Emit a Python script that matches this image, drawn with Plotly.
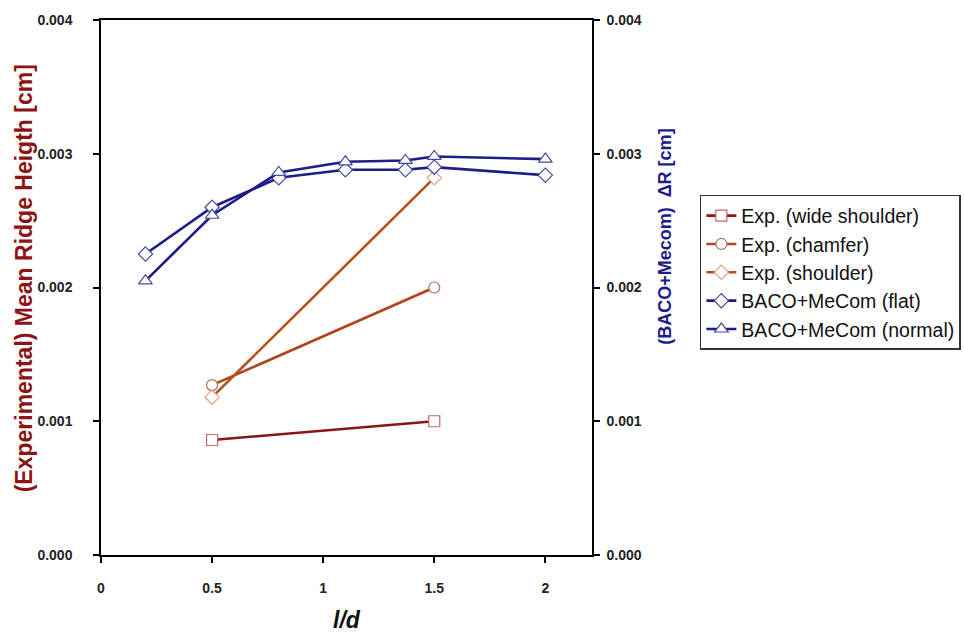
import plotly.graph_objects as go

# Experimental data (left axis)
x_exp = [0.5, 1.5]
y_wide_shoulder = [0.00086, 0.00100]
y_chamfer = [0.00127, 0.00200]
y_shoulder = [0.00118, 0.00282]

# BACO+MeCom (right axis)
x_baco = [0.2, 0.5, 0.8, 1.1, 1.37, 1.5, 2.0]
y_flat = [0.00225, 0.00260, 0.00282, 0.00288, 0.00288, 0.00290, 0.00284]
y_normal = [0.00205, 0.00254, 0.00286, 0.00294, 0.00295, 0.00298, 0.00296]

names = ["Exp. (wide shoulder)", "Exp. (chamfer)", "Exp. (shoulder)",
         "BACO+MeCom (flat)", "BACO+MeCom (normal)"]

x_ticks = [0, 0.5, 1, 1.5, 2]
y_ticks = [0, 0.001, 0.002, 0.003, 0.004]

fig = go.Figure()

def add(x, y, name, lc, mc, sym, size, yaxis):
    fig.add_trace(go.Scatter(
        x=x, y=y, name=name, mode="lines+markers", yaxis=yaxis,
        line=dict(color=lc, width=2.6),
        marker=dict(symbol=sym, size=size, color="white",
                    line=dict(color=mc, width=1.2)),
    ))

add(x_exp, y_wide_shoulder, names[0], "#8B1414", "#C06A6A", "square", 11, "y")
add(x_exp, y_chamfer, names[1], "#B0441C", "#B5705A", "circle", 11, "y")
add(x_exp, y_shoulder, names[2], "#B8501A", "#E0A080", "diamond", 11, "y")
add(x_baco, y_flat, names[3], "#1C1C8A", "#4A4AA0", "diamond", 11, "y2")
add(x_baco, y_normal, names[4], "#1C1C8A", "#4A4AA0", "triangle-up", 12, "y2")

tickfont = dict(family="Liberation Sans, Arial", size=14, color="#222", weight="bold")

fig.update_layout(
    width=964, height=635,
    paper_bgcolor="white", plot_bgcolor="white",
    margin=dict(l=101, r=372, t=17, b=80),
    showlegend=True,
    legend=dict(xref="container", yref="container", x=0.726, y=0.693,
                xanchor="left", yanchor="top",
                bordercolor="#333", borderwidth=1.5, bgcolor="white",
                font=dict(family="Liberation Sans, Arial", size=19.5, color="#111"),
                itemwidth=30, tracegroupgap=0),
    xaxis=dict(range=[0, 2.21], tickvals=x_ticks, ticktext=["0", "0.5", "1", "1.5", "2"],
               ticks="outside", ticklen=6, tickcolor="black", tickwidth=1.5,
               showline=True, linecolor="black", linewidth=1.5, mirror=True,
               showgrid=False, zeroline=False, tickfont=tickfont,
               ticklabelstandoff=13),
    yaxis=dict(range=[0, 0.004], tickvals=y_ticks, tickformat=".3f",
               ticks="outside", ticklen=6, tickcolor="black", tickwidth=1.5,
               showline=True, linecolor="black", linewidth=1.5,
               showgrid=False, zeroline=False, tickfont=tickfont,
               ticklabelstandoff=18),
    yaxis2=dict(range=[0, 0.004], tickvals=y_ticks, tickformat=".3f",
                overlaying="y", side="right", anchor="x",
                ticks="outside", ticklen=6, tickcolor="black", tickwidth=1.5,
                showline=True, linecolor="black", linewidth=1.5,
                showgrid=False, zeroline=False, tickfont=tickfont,
                ticklabelstandoff=4),
    annotations=[
        dict(text="(Experimental) Mean Ridge Heigth [cm]", textangle=-90,
             xref="paper", yref="paper", x=-0.155, y=0.517,
             xanchor="center", yanchor="middle", showarrow=False,
             font=dict(family="Liberation Sans, Arial", size=23, color="#8B1414", weight="bold")),
        dict(text="(BACO+Mecom)  ΔR [cm]", textangle=-90,
             xref="paper", yref="paper", x=1.149, y=0.595,
             xanchor="center", yanchor="middle", showarrow=False,
             font=dict(family="Liberation Sans, Arial", size=18, color="#1C1C8A", weight="bold")),
        dict(text="<b><i>l/d</i></b>",
             xref="paper", yref="paper", x=0.5, y=-0.122,
             xanchor="center", yanchor="middle", showarrow=False,
             font=dict(family="Liberation Sans, Arial", size=23, color="#111")),
    ],
)

fig.write_html("out.html", config={"displayModeBar": False},
               post_script="document.body.style.margin='0';")
